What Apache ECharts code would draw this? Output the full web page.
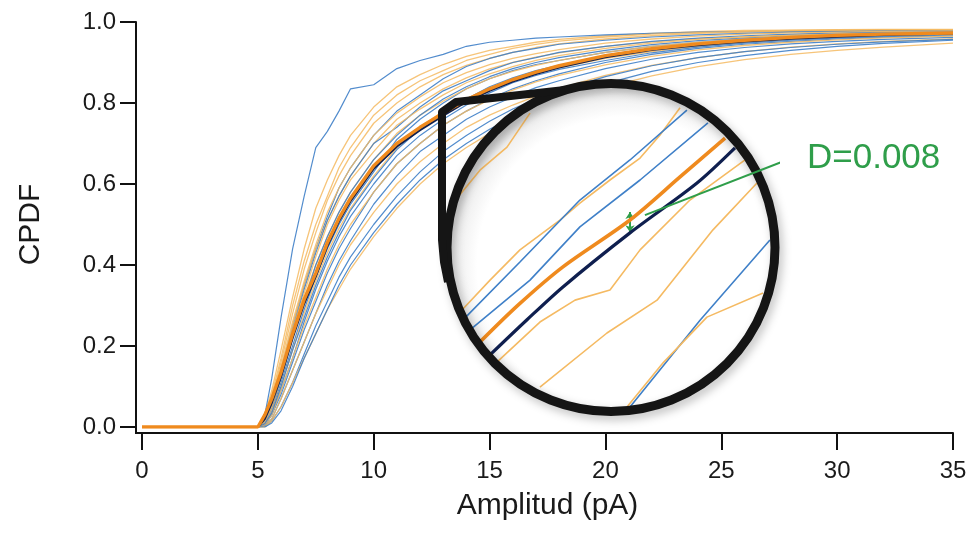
<!DOCTYPE html>
<html>
<head>
<meta charset="utf-8">
<script src="https://cdn.jsdelivr.net/npm/echarts@6/dist/echarts.min.js"></script>
<style>
html,body{margin:0;padding:0;background:#fff;}
#c{width:973px;height:536px;}
</style>
</head>
<body>
<div id="c"></div>
<script>
// ---- Data ----
const xValues = [0,5,5.3,5.6,6,6.5,7,7.5,8,8.5,9,10,11,12,13,14,15,16,17,18,20,22,24,26,28,30,32,35];
const xTicks = [0,5,10,15,20,25,30,35];
const yTicks = [0,0.2,0.4,0.6,0.8,1.0];

const blue1  = [0,0,0.03,0.12,0.27,0.44,0.57,0.69,0.73,0.78,0.835,0.845,0.885,0.905,0.92,0.94,0.95,0.955,0.96,0.963,0.968,0.972,0.975,0.976,0.977,0.978,0.978,0.978];
const blue2  = [0,0,0.02,0.06,0.14,0.25,0.35,0.44,0.52,0.59,0.64,0.72,0.78,0.82,0.86,0.89,0.91,0.925,0.935,0.945,0.955,0.963,0.968,0.972,0.975,0.977,0.978,0.979];
const blue3  = [0,0,0.01,0.04,0.11,0.2,0.29,0.37,0.44,0.5,0.55,0.63,0.71,0.76,0.8,0.835,0.86,0.88,0.895,0.905,0.925,0.94,0.95,0.958,0.963,0.967,0.97,0.972];
const blue4  = [0,0,0.005,0.03,0.08,0.16,0.24,0.31,0.38,0.44,0.49,0.58,0.65,0.7,0.745,0.78,0.81,0.835,0.855,0.872,0.9,0.92,0.935,0.945,0.952,0.958,0.962,0.966];
const blue5  = [0,0,0.003,0.02,0.07,0.14,0.21,0.28,0.35,0.41,0.46,0.55,0.62,0.68,0.72,0.76,0.79,0.815,0.838,0.855,0.885,0.908,0.925,0.937,0.946,0.952,0.957,0.962];
const blue6  = [0,0,0,0.015,0.05,0.11,0.18,0.25,0.31,0.37,0.42,0.5,0.57,0.63,0.68,0.72,0.755,0.785,0.81,0.83,0.865,0.892,0.912,0.927,0.937,0.945,0.951,0.957];
const blue7  = [0,0,0.01,0.05,0.12,0.22,0.31,0.4,0.47,0.53,0.58,0.66,0.72,0.77,0.81,0.84,0.865,0.885,0.9,0.912,0.93,0.944,0.954,0.961,0.966,0.969,0.972,0.974];
const blue8  = [0,0,0.015,0.05,0.13,0.24,0.34,0.43,0.51,0.57,0.62,0.7,0.74,0.79,0.83,0.855,0.88,0.9,0.912,0.925,0.94,0.952,0.96,0.966,0.97,0.973,0.975,0.976];
const blue9  = [0,0,0.005,0.03,0.09,0.17,0.26,0.34,0.41,0.47,0.52,0.6,0.67,0.72,0.76,0.795,0.825,0.85,0.868,0.883,0.905,0.924,0.938,0.948,0.955,0.96,0.964,0.968];
const blue10 = [0,0,0.008,0.035,0.1,0.19,0.27,0.35,0.42,0.48,0.535,0.615,0.685,0.735,0.775,0.81,0.84,0.862,0.88,0.893,0.915,0.932,0.945,0.954,0.96,0.965,0.968,0.971];
const blue11 = [0,0,0,0.01,0.04,0.1,0.17,0.23,0.29,0.35,0.4,0.48,0.55,0.61,0.66,0.7,0.735,0.765,0.79,0.81,0.848,0.878,0.9,0.917,0.93,0.94,0.947,0.955];

const orange1  = [0,0,0.03,0.09,0.19,0.32,0.44,0.54,0.61,0.67,0.72,0.79,0.84,0.87,0.895,0.915,0.93,0.94,0.95,0.957,0.966,0.972,0.976,0.979,0.98,0.981,0.982,0.982];
const orange2  = [0,0,0.02,0.07,0.16,0.28,0.39,0.48,0.56,0.62,0.67,0.75,0.8,0.84,0.87,0.893,0.91,0.925,0.937,0.946,0.958,0.966,0.972,0.975,0.978,0.979,0.98,0.98];
const orange3  = [0,0,0.015,0.06,0.14,0.25,0.35,0.44,0.51,0.57,0.62,0.7,0.76,0.8,0.835,0.862,0.884,0.9,0.913,0.924,0.94,0.951,0.959,0.964,0.968,0.971,0.973,0.975];
const orange4  = [0,0,0.01,0.045,0.12,0.22,0.32,0.4,0.47,0.53,0.58,0.66,0.725,0.77,0.805,0.835,0.86,0.878,0.893,0.905,0.925,0.94,0.95,0.957,0.962,0.966,0.969,0.972];
const orange5  = [0,0,0.005,0.035,0.1,0.19,0.28,0.36,0.43,0.49,0.54,0.62,0.69,0.74,0.78,0.81,0.835,0.856,0.873,0.887,0.91,0.927,0.94,0.95,0.957,0.962,0.966,0.969];
const orange6  = [0,0,0.003,0.02,0.07,0.14,0.21,0.28,0.34,0.4,0.45,0.53,0.6,0.655,0.7,0.74,0.77,0.795,0.817,0.836,0.868,0.893,0.912,0.927,0.938,0.946,0.952,0.958];
const orange7  = [0,0,0,0.015,0.05,0.11,0.17,0.23,0.29,0.34,0.39,0.47,0.54,0.6,0.65,0.69,0.725,0.755,0.78,0.802,0.838,0.867,0.89,0.907,0.92,0.93,0.938,0.948];
const orange8  = [0,0,0.025,0.08,0.17,0.3,0.41,0.5,0.57,0.64,0.69,0.77,0.82,0.855,0.88,0.905,0.92,0.935,0.945,0.953,0.963,0.97,0.974,0.977,0.979,0.98,0.981,0.981];
const orange9  = [0,0,0.012,0.05,0.13,0.24,0.33,0.42,0.5,0.56,0.61,0.68,0.745,0.785,0.82,0.85,0.872,0.89,0.905,0.917,0.935,0.948,0.957,0.963,0.967,0.97,0.972,0.974];
const orange10 = [0,0,0.006,0.03,0.09,0.17,0.25,0.32,0.39,0.45,0.5,0.58,0.65,0.7,0.745,0.78,0.808,0.832,0.852,0.868,0.894,0.915,0.931,0.942,0.95,0.956,0.961,0.965];
const orange11 = [0,0,0.02,0.065,0.15,0.26,0.36,0.45,0.53,0.59,0.64,0.72,0.775,0.815,0.85,0.875,0.895,0.91,0.922,0.932,0.948,0.958,0.965,0.97,0.973,0.975,0.977,0.978];

const meanOrange = [0,0,0.03,0.07,0.135,0.23,0.315,0.38,0.455,0.515,0.565,0.645,0.7,0.74,0.775,0.808,0.835,0.858,0.876,0.892,0.917,0.934,0.946,0.955,0.962,0.967,0.970,0.973];
const meanNavy   = [0,0,0.02,0.06,0.125,0.22,0.305,0.372,0.447,0.508,0.558,0.638,0.693,0.733,0.769,0.803,0.83,0.853,0.872,0.888,0.913,0.931,0.943,0.952,0.959,0.964,0.968,0.972];

// ---- Magnified view (data units of the zoom window x 12..14, y 0.74..0.83) ----
const zBlueUpX = [12.131,12.458,12.815,13.113,13.452];
const zBlueUpY = [0.7665,0.7813,0.7977,0.8083,0.8215];
const zBlueLoX = [12.161,12.518,12.815,13.173,13.577];
const zBlueLoY = [0.7633,0.7765,0.7906,0.8030,0.8181];
const zOrUpX = [12.113,12.280,12.458,12.696,12.815,12.994,13.173,13.292,13.411];
const zOrUpY = [0.7686,0.7765,0.7845,0.7924,0.7969,0.8030,0.8088,0.8149,0.8221];
const zOrTopX = [12.060,12.220,12.381,12.518];
const zOrTopY = [0.7969,0.8056,0.8117,0.8207];
const zMeanOrX = [12.22,12.45,12.714,13.113,13.411,13.679];
const zMeanOrY = [0.7601,0.7700,0.7800,0.7924,0.8038,0.8141];
const zMeanNvX = [12.28,12.50,12.714,13.113,13.512,13.738];
const zMeanNvY = [0.7567,0.7660,0.7747,0.7890,0.8022,0.8115];
const zOrLo1X = [12.321,12.577,12.786,12.994,13.173,13.470,13.798];
const zOrLo1Y = [0.7548,0.7654,0.7712,0.7739,0.7845,0.7977,0.8083];
const zOrLo2X = [12.577,12.976,13.274,13.607,13.869];
const zOrLo2Y = [0.7482,0.7625,0.7712,0.7898,0.8022];
const zBlueRX = [13.113,13.530,13.946];
const zBlueRY = [0.7429,0.7659,0.7871];
const zOrRX = [13.095,13.310,13.571,13.905];
const zOrRY = [0.7429,0.7546,0.7667,0.7731];
const pointerX = [14.018,13.202];
const pointerY = [0.8078,0.7937];
const gapX = 13.113, gapTop = 0.7945, gapBottom = 0.7892;
const dLabel = 'D=0.008';

// ---- Build ----
const BLUE = '#3f80c8', ORANGE = '#f5ba62', THICK = '#ef8a1e', NAVY = '#0f1f4f', GREEN = '#2f9e4a';
const pairs = (xs, ys) => xs.map((x, i) => [x, ys[i]]);
const blues = [blue1,blue2,blue3,blue4,blue5,blue6,blue7,blue8,blue9,blue10,blue11];
const oranges = [orange1,orange2,orange3,orange4,orange5,orange6,orange7,orange8,orange9,orange10,orange11];

const series = [];
for (let i = 0; i < Math.max(blues.length, oranges.length); i++) {
  if (oranges[i]) series.push({type:'line', data:pairs(xValues, oranges[i]), symbol:'none',
    lineStyle:{color:ORANGE, width:1.3, opacity:0.85}, z:2, silent:true});
  if (blues[i]) series.push({type:'line', data:pairs(xValues, blues[i]), symbol:'none',
    lineStyle:{color:BLUE, width:1.2, opacity:0.9}, z:2, silent:true});
}
series.push({type:'line', data:pairs(xValues, meanNavy), symbol:'none',
  lineStyle:{color:NAVY, width:2.2}, z:2, silent:true});
series.push({type:'line', data:pairs(xValues, meanOrange), symbol:'none',
  lineStyle:{color:THICK, width:3.4}, z:2, silent:true});

function zLine(xs, ys, color, width, smooth) {
  series.push({type:'line', xAxisIndex:1, yAxisIndex:1, data:pairs(xs, ys), symbol:'none', smooth:smooth||0,
    clip:false, lineStyle:{color:color, width:width}, z:5, silent:true});
}
zLine(zOrTopX, zOrTopY, ORANGE, 1.6);
zLine(zOrUpX, zOrUpY, ORANGE, 1.6);
zLine(zBlueUpX, zBlueUpY, BLUE, 1.6);
zLine(zBlueLoX, zBlueLoY, BLUE, 1.6);
zLine(zOrLo1X, zOrLo1Y, ORANGE, 1.6);
zLine(zOrLo2X, zOrLo2Y, ORANGE, 1.6);
zLine(zBlueRX, zBlueRY, BLUE, 1.6);
zLine(zOrRX, zOrRY, ORANGE, 1.6);
zLine(zMeanNvX, zMeanNvY, NAVY, 3.2, 0.3);
zLine(zMeanOrX, zMeanOrY, THICK, 3.6, 0.3);
series.push({type:'line', xAxisIndex:1, yAxisIndex:1, data:pairs(pointerX, pointerY), symbol:'none', clip:false,
  lineStyle:{color:GREEN, width:2}, z:11, silent:true,
  markLine:{silent:true, symbol:['arrow','arrow'], symbolSize:[7,7], label:{show:false},
    lineStyle:{color:GREEN, width:2, type:'solid'},
    data:[[{coord:[gapX, gapTop]},{coord:[gapX, gapBottom]}]]}});

const chart = echarts.init(document.getElementById('c'), null, {renderer:'canvas'});
const FONT = 'Liberation Sans, Arial, Helvetica, sans-serif';
chart.setOption({
  animation:false,
  backgroundColor:'#ffffff',
  grid:[
    {left:142, right:20, top:22, bottom:109, containLabel:false},
    {left:443, top:78, width:336, height:340, containLabel:false}
  ],
  xAxis:[
    {type:'value', min:xTicks[0], max:xTicks[xTicks.length-1], interval:5, offset:6, gridIndex:0,
     name:'Amplitud (pA)', nameLocation:'middle', nameGap:58,
     nameTextStyle:{fontSize:30, color:'#1a1a1a', fontFamily:FONT},
     axisLine:{show:true, onZero:false, lineStyle:{color:'#111', width:2}},
     axisTick:{show:true, inside:false, length:17, lineStyle:{color:'#111', width:2}},
     axisLabel:{fontSize:24, color:'#1a1a1a', margin:26, fontFamily:FONT},
     splitLine:{show:false}},
    {type:'value', min:12, max:14, gridIndex:1, show:false}
  ],
  yAxis:[
    {type:'value', min:yTicks[0], max:yTicks[yTicks.length-1], interval:0.2, offset:6, gridIndex:0,
     name:'CPDF', nameLocation:'middle', nameGap:90, nameRotate:90,
     nameTextStyle:{fontSize:30, color:'#1a1a1a', fontFamily:FONT},
     axisLine:{show:true, onZero:false, lineStyle:{color:'#111', width:2}},
     axisTick:{show:true, inside:false, length:16, lineStyle:{color:'#111', width:2}},
     axisLabel:{fontSize:24, color:'#1a1a1a', margin:20, fontFamily:FONT, formatter:v => v.toFixed(1)},
     splitLine:{show:false}},
    {type:'value', min:0.74, max:0.83, gridIndex:1, show:false}
  ],
  graphic:[
    {type:'polyline', silent:true, z:1, shape:{points:[[136,426],[136,433],[143,433]]},
     style:{fill:'none', stroke:'#111', lineWidth:2}},
    {type:'circle', silent:true, z:3, shape:{cx:611, cy:247.5, r:164},
     style:{fill:new echarts.graphic.RadialGradient(0.54,0.55,0.56,[
       {offset:0,color:'#ffffff'},{offset:0.8,color:'#ffffff'},{offset:0.92,color:'#eeeeee'},{offset:1,color:'#cdcdcd'}])}},
    {type:'circle', silent:true, z:10, shape:{cx:611, cy:247.5, r:164},
     style:{fill:'none', stroke:'#151515', lineWidth:9, shadowColor:'rgba(0,0,0,0.25)', shadowBlur:10, shadowOffsetX:3, shadowOffsetY:4}},
    {type:'polyline', silent:true, z:10, shape:{points:[[565,90],[456,102],[442,112],[442,240],[444,262],[448,282]]},
     style:{fill:'none', stroke:'#151515', lineWidth:8, lineJoin:'round'}},
    {type:'text', silent:true, z:11, x:807, y:158,
     style:{text:dLabel, fontSize:35, fill:GREEN, fontFamily:FONT, textVerticalAlign:'middle', textAlign:'left'}}
  ],
  series:series
});
</script>
</body>
</html>
